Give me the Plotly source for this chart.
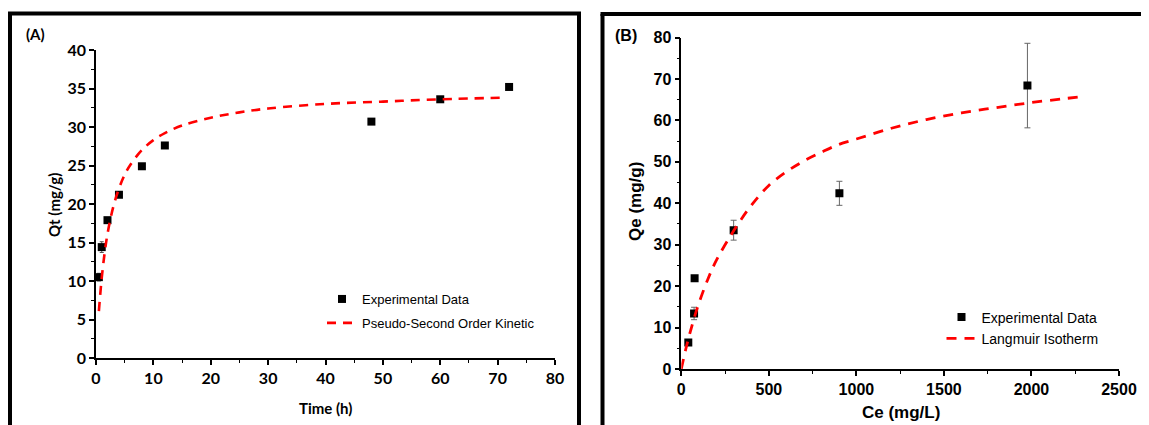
import plotly.graph_objects as go

W, H = 1149, 425
OFF = 8  # page body margin offset

# ---------------- Panel A data (kinetics) ----------------
time_h = [0.5, 1, 2, 4, 8, 12, 48, 60, 72]
qt_exp = [10.5, 14.4, 17.9, 21.2, 24.9, 27.6, 30.7, 33.6, 35.2]
qt_err = [0.5, 0.7, 0.3, 0.3, 0.3, 0.3, 0.2, 0.2, 0.2]

time_fit = [0.5, 1, 1.5, 2, 3, 4, 5, 6, 8, 10, 12, 15, 20, 25, 30, 40, 50, 60, 71]
qt_fit = [6.1, 10.4, 13.6, 16.1, 19.6, 22.0, 23.8, 25.1, 27.0, 28.3, 29.2, 30.2,
          31.2, 31.9, 32.4, 33.0, 33.3, 33.6, 33.8]

# ---------------- Panel B data (isotherm) ----------------
ce_exp = [40, 73, 76, 299, 903, 1977]
qe_exp = [6.4, 13.4, 21.9, 33.5, 42.4, 68.4]
qe_err = [0.5, 1.5, 0.5, 2.4, 2.9, 10.2]

ce_fit = [0, 25, 50, 75, 100, 150, 200, 300, 400, 500, 600, 700, 800, 900, 1000,
          1200, 1400, 1600, 1800, 2000, 2200, 2310]
qe_fit = [0, 4.7, 8.8, 12.5, 15.8, 21.5, 26.2, 33.4, 39.5, 44.3, 47.6, 50.2, 52.3,
          54.2, 55.5, 58.1, 60.2, 61.8, 63.1, 64.3, 65.3, 65.8]

LEFT_FONT = "Lato"
RIGHT_FONT = "Liberation Sans"

def px(x):
    return (x - OFF) / W

def py(y):
    return 1 - (y - OFF) / H

fig = go.Figure()

# Panel A traces
fig.add_trace(go.Scatter(
    x=time_h, y=qt_exp, mode="markers", name="Experimental Data",
    marker=dict(symbol="square", size=8, color="black"),
    error_y=dict(type="data", array=qt_err, color="#555555", thickness=1, width=2),
    xaxis="x", yaxis="y", legend="legend", legendgroup="a1"))
fig.add_trace(go.Scatter(
    x=time_fit, y=qt_fit, mode="lines", name="Pseudo-Second Order Kinetic",
    line=dict(color="#FF0000", width=2.6, dash="9px,7px", shape="spline"),
    xaxis="x", yaxis="y", legend="legend", legendgroup="a2"))

# Panel B traces
fig.add_trace(go.Scatter(
    x=ce_exp, y=qe_exp, mode="markers", name="Experimental Data",
    marker=dict(symbol="square", size=8, color="black"),
    error_y=dict(type="data", array=qe_err, color="#666666", thickness=1, width=3),
    xaxis="x2", yaxis="y2", legend="legend2"))
fig.add_trace(go.Scatter(
    x=ce_fit, y=qe_fit, mode="lines", name="Langmuir Isotherm",
    line=dict(color="#FF0000", width=2.8, dash="10px,8px", shape="spline"),
    xaxis="x2", yaxis="y2", legend="legend2"))

axA = dict(showline=True, linecolor="black", linewidth=1.5, showgrid=False,
           zeroline=False, ticks="outside", ticklen=5, tickwidth=1.5, tickcolor="black",
           automargin=False,
           tickfont=dict(family=LEFT_FONT, size=16, color="black", weight="bold"),
           minor=dict(ticks="outside", ticklen=3, tickwidth=1.2, tickcolor="black"))
axB = dict(showline=True, linecolor="black", linewidth=1.5, showgrid=False,
           zeroline=False, ticks="outside", ticklen=5, tickwidth=1.5, tickcolor="black",
           automargin=False,
           tickfont=dict(family=RIGHT_FONT, size=16, color="black", weight="bold"),
           minor=dict(ticks="outside", ticklen=3, tickwidth=1.2, tickcolor="black"))

fig.update_layout(
    width=W, height=H,
    margin=dict(l=0, r=0, t=0, b=0, pad=0, autoexpand=False),
    paper_bgcolor="white", plot_bgcolor="white",
    xaxis=dict(axA, domain=[px(96), px(555)], range=[0, 80], dtick=10,
               minor=dict(axA["minor"], dtick=5), anchor="y"),
    yaxis=dict(axA, domain=[py(358), py(50)], range=[0, 40], dtick=5,
               minor=dict(axA["minor"], dtick=2.5), anchor="x"),
    xaxis2=dict(axB, domain=[px(681.3), px(1119)], range=[0, 2500], dtick=500,
                minor=dict(axB["minor"], dtick=250), anchor="y2"),
    yaxis2=dict(axB, domain=[py(369), py(37.5)], range=[0, 80], dtick=10,
                minor=dict(axB["minor"], dtick=5), anchor="x2"),
    legend=dict(x=px(322), y=py(284), xanchor="left", yanchor="top",
                bgcolor="rgba(0,0,0,0)", tracegroupgap=4,
                font=dict(family=RIGHT_FONT, size=13, color="black")),
    legend2=dict(x=px(941.5), y=py(301.5), xanchor="left", yanchor="top",
                 bgcolor="rgba(0,0,0,0)",
                 font=dict(family=RIGHT_FONT, size=14, color="black")),
    showlegend=True,
)

# Panel borders
border = dict(color="black", width=4)
shapes = [
    dict(type="line", xref="paper", yref="paper", x0=px(10), x1=px(10), y0=py(13.5), y1=py(H + OFF), line=border),
    dict(type="line", xref="paper", yref="paper", x0=px(8), x1=px(581), y0=py(13.5), y1=py(13.5), line=border),
    dict(type="line", xref="paper", yref="paper", x0=px(579), x1=px(579), y0=py(13.5), y1=py(H + OFF), line=border),
    dict(type="line", xref="paper", yref="paper", x0=px(602.5), x1=px(602.5), y0=py(14), y1=py(H + OFF), line=border),
    dict(type="line", xref="paper", yref="paper", x0=px(600.5), x1=px(W + OFF), y0=py(14), y1=py(14), line=border),
]
fig.update_layout(shapes=shapes)

ann = [
    dict(text="(A)", x=px(35.5), y=py(34), font=dict(family=LEFT_FONT, size=15, weight="bold")),
    dict(text="(B)", x=px(625.5), y=py(35.5), font=dict(family=RIGHT_FONT, size=16, weight="bold")),
    dict(text="Time (h)", x=px(325), y=py(408), font=dict(family=LEFT_FONT, size=15, weight="bold")),
    dict(text="Qt (mg/g)", x=px(54), y=py(205), textangle=-90, font=dict(family=LEFT_FONT, size=15, weight="bold")),
    dict(text="Ce (mg/L)", x=px(901), y=py(412), font=dict(family=RIGHT_FONT, size=17, weight="bold")),
    dict(text="Qe (mg/g)", x=px(635), y=py(202), textangle=-90, font=dict(family=RIGHT_FONT, size=17, weight="bold")),
]
for a in ann:
    a.update(xref="paper", yref="paper", showarrow=False, xanchor="center", yanchor="middle")
    a["font"]["color"] = "black"
fig.update_layout(annotations=ann)

fig.write_html("out.html")
